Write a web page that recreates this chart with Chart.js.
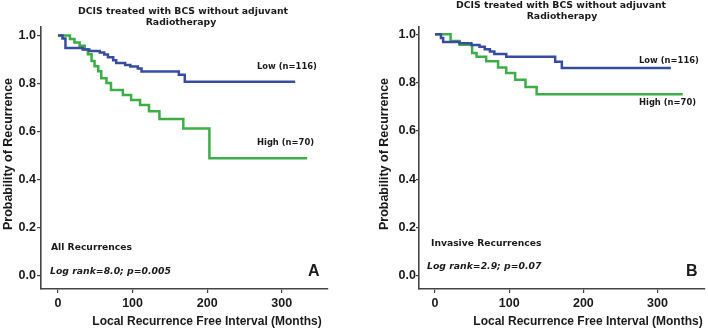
<!DOCTYPE html>
<html lang="en">
<head>
<meta charset="UTF-8">
<title>DCIS recurrence curves</title>
<script src="https://cdn.jsdelivr.net/npm/chart.js"></script>
<style>
  html, body { margin: 0; padding: 0; background: #fff; }
  #wrap { position: relative; width: 708px; height: 330px; }
  .panel { position: absolute; top: 0; width: 354px; height: 330px; }
</style>
</head>
<body>
<div id="wrap">
  <div class="panel" style="left:0"><canvas id="chartA"></canvas></div>
  <div class="panel" style="left:354px"><canvas id="chartB"></canvas></div>
</div>
<script>
// panel A: all recurrences
const aLowMonths  = [0, 6, 10, 33, 42, 56, 62, 67, 74, 78, 90, 97, 107, 112, 162, 170, 318];
const aLowProb    = [1.0, 0.987, 0.948, 0.941, 0.935, 0.929, 0.92, 0.909, 0.897, 0.885, 0.877, 0.870, 0.862, 0.850, 0.836, 0.807, 0.807];
const aHighMonths = [0, 16, 22, 29, 36, 40, 45, 49, 54, 58, 65, 71, 87, 98, 110, 122, 136, 168, 203, 334];
const aHighProb   = [1.0, 0.985, 0.97, 0.957, 0.942, 0.922, 0.893, 0.872, 0.851, 0.822, 0.802, 0.773, 0.752, 0.731, 0.710, 0.684, 0.652, 0.612, 0.488, 0.488];

// panel B: invasive recurrences
const bLowMonths  = [0, 8, 11, 33, 49, 60, 67, 74, 80, 96, 162, 171, 318];
const bLowProb    = [1.0, 0.985, 0.968, 0.963, 0.956, 0.948, 0.938, 0.929, 0.918, 0.907, 0.886, 0.860, 0.860];
const bHighMonths = [0, 21, 33, 50, 56, 69, 85, 96, 108, 122, 137, 334];
const bHighProb   = [1.0, 0.972, 0.957, 0.922, 0.907, 0.888, 0.862, 0.840, 0.812, 0.782, 0.752, 0.752];

const xTicks = [0, 100, 200, 300];
const yTicks = [0, 0.2, 0.4, 0.6, 0.8, 1.0];

const BLUE = '#384c9e';
const GREEN = '#3dad47';
const AXIS = '#444';
const INK = '#1a1a1a';

const titleFont = 'bold 9.3px "DejaVu Sans"';
const groupFont = 'bold 8.4px "DejaVu Sans"';
const statFont = 'italic bold 9.3px "DejaVu Sans"';
const axisTitleFont = 'bold 12.5px "Liberation Sans"';
const letterFont = 'bold 16px "Liberation Sans"';

function toPoints(months, prob) {
  return months.map((m, i) => ({ x: m, y: prob[i] }));
}

// draws titles, group labels and stats text on top of the chart
function notesPlugin(notes) {
  return {
    id: 'notes',
    afterDraw(chart) {
      const ctx = chart.ctx;
      ctx.save();
      ctx.fillStyle = INK;
      ctx.textBaseline = 'middle';
      notes.forEach(n => {
        ctx.save();
        ctx.font = n.font;
        ctx.textAlign = n.align || 'left';
        ctx.translate(n.x, n.y);
        if (n.rotate) ctx.rotate(n.rotate);
        ctx.fillText(n.text, 0, 0);
        ctx.restore();
      });
      ctx.restore();
    }
  };
}

function buildPanel(id, low, high, box, notes) {
  const tickFont = { family: 'Liberation Sans', size: 12.5, weight: 'bold' };
  new Chart(document.getElementById(id), {
    type: 'line',
    data: {
      datasets: [
        { data: low, borderColor: BLUE, borderWidth: 2.5, stepped: true, pointRadius: 0, fill: false },
        { data: high, borderColor: GREEN, borderWidth: 2.5, stepped: true, pointRadius: 0, fill: false }
      ]
    },
    options: {
      responsive: true,
      maintainAspectRatio: false,
      animation: false,
      layout: { padding: { left: 0, top: box.top, right: box.right, bottom: 0 } },
      plugins: { legend: { display: false }, tooltip: { enabled: false } },
      scales: {
        x: {
          type: 'linear',
          min: box.xMin,
          max: box.xMax,
          afterBuildTicks: s => { s.ticks = xTicks.map(v => ({ value: v })); },
          afterFit: s => { s.height = box.xHeight; },
          grid: { drawOnChartArea: false, drawTicks: true, tickLength: 4, color: AXIS, lineWidth: 1.2 },
          border: { color: AXIS, width: 1.6 },
          ticks: { font: tickFont, color: INK, padding: 3, maxRotation: 0, callback: v => v }
        },
        y: {
          type: 'linear',
          min: box.yMin,
          max: box.yMax,
          afterBuildTicks: s => { s.ticks = yTicks.map(v => ({ value: v })); },
          afterFit: s => { s.width = box.yWidth; },
          grid: { drawOnChartArea: false, drawTicks: true, tickLength: box.tickLen, color: AXIS, lineWidth: 1.2 },
          border: { color: AXIS, width: 1.6 },
          ticks: { font: tickFont, color: INK, padding: box.tickPad, callback: v => v.toFixed(1) }
        }
      }
    },
    plugins: [notesPlugin(notes)]
  });
}

buildPanel('chartA',
  toPoints(aLowMonths, aLowProb),
  toPoints(aHighMonths, aHighProb),
  { top: 27, right: 26, xHeight: 41, yWidth: 41, xMin: -22.8, xMax: 362, yMin: -0.056, yMax: 1.035, tickLen: 4, tickPad: 1 },
  [
    { text: 'DCIS treated with BCS without adjuvant', x: 183, y: 12, font: titleFont, align: 'center' },
    { text: 'Radiotherapy', x: 181, y: 23, font: titleFont, align: 'center' },
    { text: 'Low (n=116)', x: 257, y: 67, font: groupFont },
    { text: 'High (n=70)', x: 257, y: 143, font: groupFont },
    { text: 'All Recurrences', x: 51, y: 248, font: 'bold 9.2px "DejaVu Sans"' },
    { text: 'Log rank=8.0; p=0.005', x: 50, y: 272, font: statFont },
    { text: 'A', x: 308, y: 272, font: letterFont },
    { text: 'Probability of Recurrence', x: 9, y: 154, font: axisTitleFont, align: 'center', rotate: -Math.PI / 2 },
    { text: 'Local Recurrence Free Interval (Months)', x: 207, y: 322, font: 'bold 12px "Liberation Sans"', align: 'center' }
  ]
);

buildPanel('chartB',
  toPoints(bLowMonths, bLowProb),
  toPoints(bHighMonths, bHighProb),
  { top: 27, right: 3, xHeight: 41, yWidth: 65, xMin: -21.6, xMax: 364, yMin: -0.054, yMax: 1.03, tickLen: 3, tickPad: 0 },
  [
    { text: 'DCIS treated with BCS without adjuvant', x: 207, y: 6, font: titleFont, align: 'center' },
    { text: 'Radiotherapy', x: 208, y: 17, font: titleFont, align: 'center' },
    { text: 'Low (n=116)', x: 285, y: 61, font: groupFont },
    { text: 'High (n=70)', x: 285, y: 103, font: groupFont },
    { text: 'Invasive Recurrences', x: 77, y: 244, font: 'bold 9.2px "DejaVu Sans"' },
    { text: 'Log rank=2.9; p=0.07', x: 73, y: 267, font: statFont },
    { text: 'B', x: 332, y: 272, font: letterFont },
    { text: 'Probability of Recurrence', x: 31, y: 154, font: axisTitleFont, align: 'center', rotate: -Math.PI / 2 },
    { text: 'Local Recurrence Free Interval (Months)', x: 234, y: 322, font: 'bold 12px "Liberation Sans"', align: 'center' }
  ]
);
</script>
</body>
</html>
